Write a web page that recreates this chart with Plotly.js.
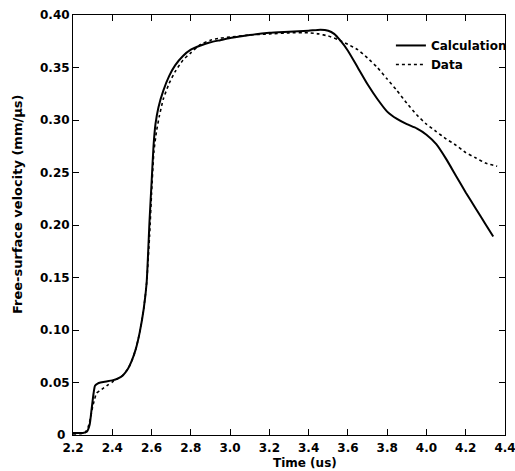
<!DOCTYPE html>
<html>
<head>
<meta charset="utf-8">
<script src="https://cdn.plot.ly/plotly-3.0.1.min.js"></script>
<style>html,body{margin:0;padding:0;background:#fff;}</style>
</head>
<body>
<div id="chart" style="width:515px;height:471px;"></div>
<script>
// Calculation (solid)
const calcTime = [2.20, 2.25, 2.27, 2.285, 2.295, 2.305, 2.312, 2.325, 2.34, 2.37, 2.40, 2.43, 2.455, 2.48, 2.50, 2.52, 2.54, 2.56, 2.575, 2.59, 2.60, 2.61, 2.62, 2.635, 2.66, 2.69, 2.72, 2.76, 2.80, 2.85, 2.90, 2.95, 3.00, 3.10, 3.20, 3.30, 3.40, 3.46, 3.50, 3.53, 3.56, 3.60, 3.65, 3.70, 3.75, 3.80, 3.85, 3.90, 3.95, 4.00, 4.05, 4.10, 4.15, 4.20, 4.25, 4.30, 4.34];
const calcVel = [0.002, 0.002, 0.003, 0.010, 0.025, 0.040, 0.047, 0.049, 0.050, 0.051, 0.052, 0.054, 0.057, 0.063, 0.071, 0.082, 0.098, 0.120, 0.145, 0.205, 0.240, 0.275, 0.296, 0.312, 0.328, 0.342, 0.352, 0.361, 0.367, 0.371, 0.374, 0.376, 0.378, 0.381, 0.383, 0.384, 0.385, 0.386, 0.385, 0.382, 0.376, 0.366, 0.350, 0.334, 0.320, 0.308, 0.301, 0.296, 0.292, 0.286, 0.277, 0.263, 0.247, 0.231, 0.216, 0.201, 0.189];

// Data (dotted)
const dataTime = [2.20, 2.26, 2.278, 2.29, 2.30, 2.31, 2.32, 2.335, 2.35, 2.38, 2.405, 2.43, 2.455, 2.48, 2.50, 2.52, 2.54, 2.56, 2.575, 2.59, 2.60, 2.612, 2.625, 2.64, 2.66, 2.69, 2.72, 2.76, 2.80, 2.85, 2.90, 2.95, 3.00, 3.10, 3.20, 3.30, 3.40, 3.45, 3.50, 3.55, 3.60, 3.65, 3.70, 3.75, 3.80, 3.85, 3.90, 3.95, 4.00, 4.05, 4.10, 4.15, 4.20, 4.25, 4.30, 4.36];
const dataVel = [0.001, 0.002, 0.008, 0.017, 0.027, 0.034, 0.040, 0.042, 0.044, 0.048, 0.051, 0.054, 0.057, 0.063, 0.071, 0.082, 0.098, 0.120, 0.145, 0.190, 0.230, 0.270, 0.289, 0.304, 0.320, 0.335, 0.346, 0.357, 0.364, 0.372, 0.376, 0.378, 0.379, 0.381, 0.382, 0.383, 0.383, 0.382, 0.380, 0.3765, 0.372, 0.367, 0.359, 0.350, 0.339, 0.328, 0.316, 0.305, 0.296, 0.289, 0.282, 0.276, 0.269, 0.264, 0.259, 0.256];

const xTickVals = [2.2, 2.4, 2.6, 2.8, 3.0, 3.2, 3.4, 3.6, 3.8, 4.0, 4.2, 4.4];
const xTickText = ["2.2", "2.4", "2.6", "2.8", "3.0", "3.2", "3.4", "3.6", "3.8", "4.0", "4.2", "4.4"];
const yTickVals = [0, 0.05, 0.10, 0.15, 0.20, 0.25, 0.30, 0.35, 0.40];
const yTickText = ["0\u00a0", "0.05", "0.10", "0.15", "0.20", "0.25", "0.30", "0.35", "0.40"];

const xTitle = "Time (us)";
const yTitle = "Free-surface velocity (mm/μs)";

const fnt = {family: "DejaVu Sans, Liberation Sans, Arial, sans-serif", size: 12, color: "#000", weight: "bold"};

const traces = [
  {x: calcTime, y: calcVel, type: "scatter", mode: "lines", name: "Calculation",
   line: {color: "#000", width: 2, shape: "spline", smoothing: 0.5}},
  {x: dataTime, y: dataVel, type: "scatter", mode: "lines", name: "Data",
   line: {color: "#000", width: 1.6, dash: "dot", shape: "spline", smoothing: 0.5}}
];

const layout = {
  width: 515, height: 471,
  margin: {l: 73, r: 10, t: 15, b: 36, autoexpand: false},
  paper_bgcolor: "#fff", plot_bgcolor: "#fff",
  font: fnt,
  showlegend: true,
  legend: {x: 1.016, y: 0.962, xanchor: "right", yanchor: "top", bgcolor: "rgba(0,0,0,0)",
           font: fnt, itemwidth: 30, tracegroupgap: 0, borderwidth: 0},
  xaxis: {
    range: [2.2, 4.4], tickvals: xTickVals, ticktext: xTickText,
    ticks: "inside", ticklen: 6, tickcolor: "#000", tickwidth: 1,
    showline: true, linecolor: "#000", linewidth: 1, mirror: "ticks",
    showgrid: false, zeroline: false, tickfont: fnt, ticklabelstandoff: 2,
    ticklabeloverflow: "allow"
  },
  yaxis: {
    range: [0, 0.40], tickvals: yTickVals, ticktext: yTickText,
    ticks: "inside", ticklen: 6, tickcolor: "#000", tickwidth: 1,
    showline: true, linecolor: "#000", linewidth: 1, mirror: "ticks",
    showgrid: false, zeroline: false, tickfont: fnt
  },
  annotations: [
    {text: xTitle, xref: "paper", yref: "paper", x: (305 - 73) / 432, y: 0, yanchor: "bottom",
     yshift: -36, borderpad: 0, showarrow: false, font: fnt},
    {text: yTitle, xref: "paper", yref: "paper", x: 0, y: (435 - 205) / 420, xanchor: "center",
     xshift: -55, textangle: -90, showarrow: false,
     font: {family: fnt.family, size: 13, color: "#000", weight: "bold"}}
  ]
};

Plotly.newPlot("chart", traces, layout, {staticPlot: true, displayModeBar: false});
</script>
</body>
</html>
